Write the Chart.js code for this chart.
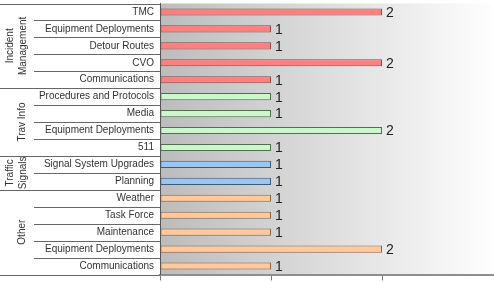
<!DOCTYPE html>
<html>
<head>
<meta charset="utf-8">
<script src="https://cdn.jsdelivr.net/npm/chart.js@4/dist/chart.umd.min.js"></script>
<style>
  html, body { margin: 0; padding: 0; background: #fff; }
  #wrap { width: 494px; height: 282px; }
</style>
</head>
<body>
<div id="wrap"><canvas id="grafico" width="494" height="282"></canvas></div>
<script>
const categorias = [
  'TMC', 'Equipment Deployments', 'Detour Routes', 'CVO', 'Communications',
  'Procedures and Protocols', 'Media', 'Equipment Deployments', '511',
  'Signal System Upgrades', 'Planning',
  'Weather', 'Task Force', 'Maintenance', 'Equipment Deployments', 'Communications'
];
const valores = [2, 1, 1, 2, 1, 1, 1, 2, 1, 1, 1, 1, 1, 1, 2, 1];

const grupos = [['Incident', 'Management'], ['Trav Info'], ['Traffic', 'Signals'], ['Other']];
const tamanhoGrupos = [5, 4, 2, 5];
const coresGrupos = ['#ff7f7f', '#ccf7cc', '#99c6f2', '#ffc99b'];
const bordasGrupos = ['#8c4b4b', '#4f6f4f', '#3d5a78', '#8a6544'];

const corBarra = [];
const corBorda = [];
tamanhoGrupos.forEach((n, g) => {
  for (let i = 0; i < n; i++) {
    corBarra.push(coresGrupos[g]);
    corBorda.push(bordasGrupos[g]);
  }
});

const fundo = {
  id: 'fundo',
  beforeDraw(chart) {
    const { ctx, chartArea: a } = chart;
    const grad = ctx.createLinearGradient(a.left, 0, a.right, 0);
    grad.addColorStop(0, '#bcbcbc');
    grad.addColorStop(1, '#fefefe');
    ctx.save();
    ctx.fillStyle = grad;
    ctx.fillRect(a.left, a.top, a.right - a.left, a.bottom - a.top);
    ctx.restore();
  }
};

const grade = {
  id: 'grade',
  afterDraw(chart) {
    const { ctx, chartArea: a } = chart;
    const passo = (a.bottom - a.top) / categorias.length;
    ctx.save();
    ctx.strokeStyle = '#666';
    ctx.lineWidth = 1;
    // linhas entre as categorias
    let inicio = 0;
    const limites = [0];
    tamanhoGrupos.forEach(n => { inicio += n; limites.push(inicio); });
    for (let i = 0; i <= categorias.length; i++) {
      const py = Math.round(a.top + i * passo) + 0.5;
      const x0 = limites.includes(i) ? 0 : 34;
      ctx.beginPath();
      ctx.moveTo(x0, py);
      ctx.lineTo(a.left, py);
      ctx.stroke();
    }
    // nomes dos grupos
    ctx.fillStyle = '#333';
    ctx.font = '10px "Liberation Sans", Arial, sans-serif';
    ctx.textAlign = 'center';
    ctx.textBaseline = 'middle';
    grupos.forEach((linhas, g) => {
      const y0 = a.top + limites[g] * passo;
      const y1 = a.top + limites[g + 1] * passo;
      const meio = (y0 + y1) / 2;
      ctx.save();
      ctx.translate(linhas.length > 1 ? 17 : 22, meio);
      ctx.rotate(-Math.PI / 2);
      linhas.forEach((t, k) => {
        ctx.fillText(t, 0, (k - (linhas.length - 1) / 2) * 13);
      });
      ctx.restore();
    });
    ctx.restore();
  }
};

const rotulos = {
  id: 'rotulos',
  afterDatasetsDraw(chart) {
    const { ctx } = chart;
    const meta = chart.getDatasetMeta(0);
    ctx.save();
    ctx.fillStyle = '#222';
    ctx.font = '14px "Liberation Sans", Arial, sans-serif';
    ctx.textAlign = 'left';
    ctx.textBaseline = 'middle';
    meta.data.forEach((barra, i) => {
      ctx.fillText(String(valores[i]), barra.x + 4, barra.y + 1);
    });
    ctx.restore();
  }
};

const grafico = new Chart(document.getElementById('grafico'), {
  type: 'bar',
  data: {
    labels: categorias,
    datasets: [{
      data: valores,
      backgroundColor: corBarra,
      borderColor: corBorda,
      borderWidth: 1,
      borderSkipped: false,
      barPercentage: 0.42,
      categoryPercentage: 1
    }]
  },
  options: {
    indexAxis: 'y',
    responsive: false,
    animation: false,
    layout: { padding: { left: 0, top: 3.5, right: 1, bottom: 1.5 } },
    plugins: { legend: { display: false }, tooltip: { enabled: false } },
    scales: {
      x: {
        min: 0,
        max: 3,
        afterFit(scale) { scale.height = 6; scale.paddingLeft = 0; scale.paddingRight = 0; },
        ticks: { display: false, stepSize: 1 },
        grid: {
          drawOnChartArea: false,
          drawTicks: true,
          tickLength: 6,
          color: ctx => (ctx.tick && ctx.tick.value === 3) ? 'rgba(0,0,0,0)' : '#777'
        },
        border: { color: '#8e8e8e', width: 2 }
      },
      y: {
        afterFit(scale) { scale.width = 160; scale.paddingTop = 0; scale.paddingBottom = 0; },
        ticks: {
          color: '#333',
          padding: 6,
          font: { family: '"Liberation Sans", Arial, sans-serif', size: 10 }
        },
        grid: { drawOnChartArea: false, drawTicks: false },
        border: { color: '#555', width: 1 }
      }
    }
  },
  plugins: [fundo, grade, rotulos]
});
</script>
</body>
</html>
